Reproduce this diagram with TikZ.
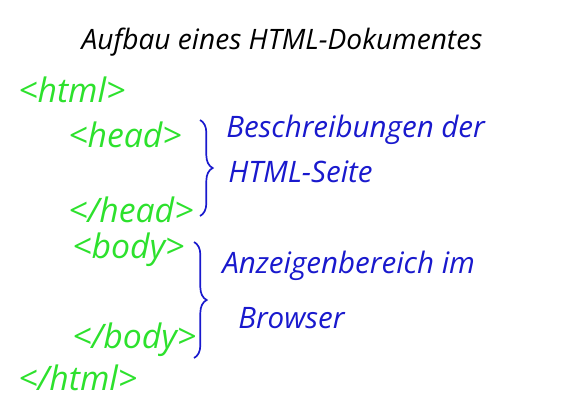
\documentclass[tikz,border=0pt]{standalone}
\usepackage{fontspec}
\setmainfont{Open Sans}
\usetikzlibrary{decorations.pathreplacing}
\definecolor{taggreen}{RGB}{45,225,45}
\definecolor{penblue}{RGB}{25,25,205}
\tikzset{
  tag/.style={anchor=west, inner sep=0pt, text=taggreen, font=\fontsize{24}{28}\selectfont\itshape},
  note/.style={anchor=west, inner sep=0pt, text=penblue, font=\fontsize{21}{25}\selectfont\itshape},
  pbrace/.style={draw=penblue, line width=1.2pt, decorate, decoration={brace, amplitude=9pt}}
}
\begin{document}
\begin{tikzpicture}[x=0.025cm, y=-0.025cm, every node/.style={font=\fontsize{20}{24}\selectfont\itshape}]
  \useasboundingbox (0,0) rectangle (564,416);
  \node (title) at (282,42) {Aufbau eines HTML-Dokumentes};
  \node[tag] (html) at (18,90) {<html>};
  \node[tag] (head) at (68,135) {<head>};
  \node[tag] (ehead) at (68,210) {</head>};
  \node[tag] (body) at (72,250) {<body>};
  \node[tag] (ebody) at (72,340) {</body>};
  \node[tag] (ehtml) at (18,378) {</html>};
  \node[note] (descr) at (226,130) {Beschreibungen der};
  \node[note] (page) at (228,172) {HTML-Seite};
  \node[note] (show) at (222,266) {Anzeigenbereich im};
  \node[note] (browser) at (238,318) {Browser};
  \coordinate (hb1) at (200,120);
  \coordinate (hb2) at (200,216);
  \coordinate (bb1) at (194,242);
  \coordinate (bb2) at (194,358);
  \draw[pbrace] (hb1) -- (hb2);
  \draw[pbrace] (bb1) -- (bb2);
\end{tikzpicture}
\end{document}
